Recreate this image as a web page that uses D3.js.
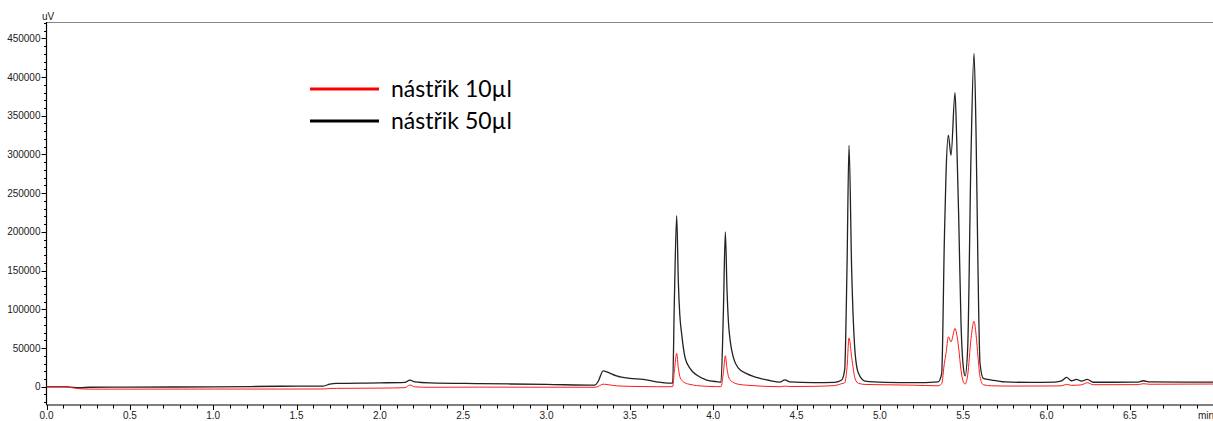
<!DOCTYPE html>
<html>
<head>
<meta charset="utf-8">
<title>chromatogram</title>
<script src="https://cdn.jsdelivr.net/npm/d3@7"></script>
<style>
  body { margin: 0; background: #fff; }
  svg { display: block; background: #fff; }
  .tick-label { font-family: "Liberation Sans", Arial, sans-serif; font-size: 10px; fill: #222; }
  .legend-text { font-family: Lato, "Open Sans", sans-serif; font-size: 23px; fill: #000; }
</style>
</head>
<body>
<svg width="1213" height="421"></svg>
<script>
// retention time (min)
var times = [0.00, 0.10, 0.14, 0.20, 0.26, 0.50, 1.00, 1.40, 1.66, 1.70, 1.74, 2.00, 2.15, 2.18, 2.21, 2.30, 2.60, 3.00,
  3.29, 3.31, 3.34, 3.37, 3.42, 3.50, 3.58, 3.66, 3.73, 3.757, 3.767, 3.781, 3.791, 3.800, 3.811, 3.831, 3.861, 3.901, 3.961,
  4.021, 4.047, 4.061, 4.073, 4.083, 4.092, 4.103, 4.121, 4.151, 4.201, 4.281, 4.341, 4.40, 4.43, 4.46, 4.60, 4.73, 4.771,
  4.789, 4.803, 4.815, 4.831, 4.851, 4.871, 4.911, 5.03, 5.20, 5.35, 5.371, 5.387, 5.397, 5.411, 5.427, 5.451, 5.461,
  5.473, 5.487, 5.501, 5.512, 5.527, 5.547, 5.565, 5.577, 5.589, 5.601, 5.621, 5.671, 5.75, 5.90, 6.05, 6.09, 6.12,
  6.15, 6.18, 6.21, 6.245, 6.28, 6.40, 6.55, 6.58, 6.62, 7.00];

// signal (uV), injection 50 ul (black)
var inj50 = [0, 0, -400, -1300, -700, -500, -200, 600, 900, 3400, 4300, 5000, 5700, 8600, 6200, 4900, 4000, 3000,
  2000, 7000, 20600, 18500, 14000, 10800, 9500, 6400, 4600, 4800, 110000, 221000, 135000, 92000, 68000, 38000, 23700, 15000, 8600,
  6500, 6000, 95000, 200000, 125000, 82000, 58000, 38000, 24000, 17000, 10800, 8000, 6000, 8800, 6200, 5200, 5700, 8600,
  22000, 155000, 311600, 150000, 45000, 17600, 7300, 5700, 5300, 6400, 17000, 189000, 275000, 325000, 299000, 380000, 320000,
  220000, 82000, 25000, 14000, 50000, 300000, 430600, 330000, 150000, 30000, 10800, 8600, 6200, 5600, 6000, 7500, 12000,
  7700, 9500, 7200, 9500, 5800, 5800, 6000, 7700, 6200, 6000];

// signal (uV), injection 10 ul (red)
var inj10 = [0, 0, -900, -2600, -3100, -3100, -3000, -3000, -2900, -2300, -2100, -1800, -1200, 2200, -200, -700, -500, -600,
  -700, 400, 3300, 2600, 1200, 500, 200, 0, 0, 200, 20000, 43000, 24000, 13000, 8500, 5000, 3000, 1500, 500,
  100, 100, 18000, 40000, 23000, 13000, 8500, 5500, 3200, 2000, 800, 300, 0, 800, 200, 500, 1500, 4000,
  5000, 25000, 63000, 38000, 10800, 4400, 3000, 2500, 2000, 1200, 4000, 30000, 43000, 64500, 58000, 75300, 68000,
  50000, 21500, 6400, 3500, 15000, 62000, 84700, 68000, 38000, 12900, 2500, 1200, 900, 900, 1000, 1200, 3000,
  1800, 2000, 2500, 5200, 2600, 2600, 2700, 3900, 3200, 3500];

var yMajor = [0, 50000, 100000, 150000, 200000, 250000, 300000, 350000, 400000, 450000];
var xMajor = [0.0, 0.5, 1.0, 1.5, 2.0, 2.5, 3.0, 3.5, 4.0, 4.5, 5.0, 5.5, 6.0, 6.5];
var seriesNames = ["nástřik 10µl", "nástřik 50µl"];
var seriesColors = ["#ff0000", "#000000"];

var svg = d3.select("svg"),
  W = +svg.attr("width"),
  plotLeft = 46.5, plotTop = 22, plotBottom = 405;

var x = d3.scaleLinear().domain([0, 7]).range([plotLeft, plotLeft + 7 * 166.67]);
var y = d3.scaleLinear().domain([-23600, 471100]).range([plotBottom, plotTop]);

// minor ticks
var yMinor = d3.range(-20000, 471000, 10000);
var xMinor = d3.range(0, 71).map(function(i) { return i / 10; });

var axes = svg.append("g");

axes.append("line")
  .attr("x1", plotLeft).attr("x2", W).attr("y1", plotTop + 0.5).attr("y2", plotTop + 0.5)
  .attr("stroke", "#888").attr("stroke-width", 1);

axes.append("line")
  .attr("x1", plotLeft).attr("x2", plotLeft).attr("y1", plotTop).attr("y2", plotBottom)
  .attr("stroke", "#000").attr("stroke-width", 1.2);

axes.append("line")
  .attr("x1", plotLeft).attr("x2", W).attr("y1", plotBottom).attr("y2", plotBottom)
  .attr("stroke", "#000").attr("stroke-width", 1.2);

axes.selectAll(".ymin").data(yMinor).enter().append("line")
  .attr("x1", plotLeft - 2.5).attr("x2", plotLeft)
  .attr("y1", function(d) { return Math.round(y(d)) + 0.5; })
  .attr("y2", function(d) { return Math.round(y(d)) + 0.5; })
  .attr("stroke", "#000").attr("stroke-width", 1);

axes.selectAll(".ymaj").data(yMajor).enter().append("line")
  .attr("x1", plotLeft - 5).attr("x2", plotLeft)
  .attr("y1", function(d) { return Math.round(y(d)) + 0.5; })
  .attr("y2", function(d) { return Math.round(y(d)) + 0.5; })
  .attr("stroke", "#000").attr("stroke-width", 1);

axes.selectAll(".ylab").data(yMajor).enter().append("text")
  .attr("class", "tick-label")
  .attr("x", plotLeft - 6).attr("y", function(d) { return y(d) + 3.5; })
  .attr("text-anchor", "end")
  .text(function(d) { return d; });

axes.selectAll(".xmin").data(xMinor).enter().append("line")
  .attr("x1", function(d) { return Math.round(x(d)) + 0.5; })
  .attr("x2", function(d) { return Math.round(x(d)) + 0.5; })
  .attr("y1", plotBottom).attr("y2", plotBottom + 3.5)
  .attr("stroke", "#000").attr("stroke-width", 1);

axes.selectAll(".xmaj").data(xMajor).enter().append("line")
  .attr("x1", function(d) { return Math.round(x(d)) + 0.5; })
  .attr("x2", function(d) { return Math.round(x(d)) + 0.5; })
  .attr("y1", plotBottom).attr("y2", plotBottom + 5)
  .attr("stroke", "#000").attr("stroke-width", 1);

axes.selectAll(".xlab").data(xMajor).enter().append("text")
  .attr("class", "tick-label")
  .attr("x", function(d) { return x(d); }).attr("y", 419)
  .attr("text-anchor", "middle")
  .text(function(d) { return d.toFixed(1); });

axes.append("text").attr("class", "tick-label")
  .attr("x", 1198).attr("y", 419).text("min");

axes.append("text").attr("class", "tick-label")
  .attr("x", 42).attr("y", 20).text("uV");

// traces
var line = d3.line()
  .x(function(d, i) { return x(times[i]); })
  .y(function(d) { return y(d); })
  .curve(d3.curveMonotoneX);

svg.append("path").datum(inj50)
  .attr("fill", "none").attr("stroke", "#222").attr("stroke-width", 1.3)
  .attr("d", line);

svg.append("path").datum(inj10)
  .attr("fill", "none").attr("stroke", "#ff1a1a").attr("stroke-width", 1)
  .attr("d", line);

// legend
var legend = svg.append("g").selectAll("g").data(seriesNames).enter().append("g")
  .attr("transform", function(d, i) { return "translate(310," + (89 + i * 32) + ")"; });

legend.append("line")
  .attr("x1", 0).attr("x2", 69).attr("y1", 0).attr("y2", 0)
  .attr("stroke", function(d, i) { return seriesColors[i]; })
  .attr("stroke-width", 3);

legend.append("text")
  .attr("class", "legend-text")
  .attr("x", 81).attr("y", 8)
  .text(function(d) { return d; });
</script>
</body>
</html>
